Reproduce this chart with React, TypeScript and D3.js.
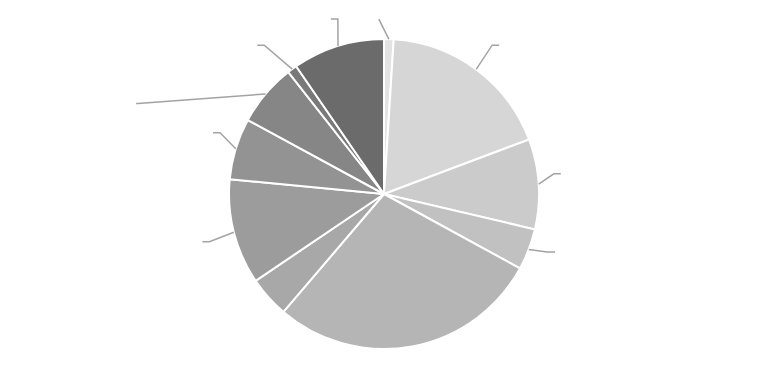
import React, { useEffect, useRef } from 'react';
import * as d3 from 'd3';

// slices clockwise from 12 o'clock
const categories = ['A', 'B', 'C', 'D', 'E', 'F', 'G', 'H', 'I', 'J', 'K'];
const values = [1.0, 18.3, 9.4, 4.3, 28.3, 4.3, 11.0, 6.4, 6.5, 1.0, 9.6];
const shades = ['#e3e3e3', '#d6d6d6', '#cbcbcb', '#c1c1c1', '#b5b5b5', '#a8a8a8', '#9c9c9c', '#939393', '#868686', '#797979', '#6b6b6b'];

export default function App() {
  const svgRef = useRef<SVGSVGElement>(null);

  useEffect(() => {
    const w = 768;
    const h = 389;
    const cx = 384;
    const cy = 194;
    const r = 155;

    const svg = d3.select(svgRef.current)
      .attr('width', w)
      .attr('height', h)
      .style('display', 'block');
    svg.selectAll('*').remove();

    const data = categories.map((c, i) => ({ name: c, value: values[i], color: shades[i] }));

    const pie = d3.pie<any>()
      .value(d => d.value)
      .sort(null);
    const arcs = pie(data);

    const arc = d3.arc<any>()
      .innerRadius(0)
      .outerRadius(r);

    const g = svg.append('g').attr('transform', `translate(${cx},${cy})`);

    g.selectAll('path.slice')
      .data(arcs)
      .join('path')
      .attr('class', 'slice')
      .attr('d', arc)
      .attr('fill', d => d.data.color)
      .attr('stroke', '#fff')
      .attr('stroke-width', 2)
      .attr('stroke-linejoin', 'round');

    // leader lines: elbow pushed out / rotated a bit where labels got shifted
    const ext = [20, 29, 16, 18, 0, 0, 26, 20, 107, 36, 26];
    const rot = [-3.5, -0.5, -3.1, -1.4, 0, 0, -1, 3.5, -20, -2.5, 2.5];
    const tail = [0, 7, 7, 8, 0, 0, 7, 7, 2, 7, 7];
    const polar = (a: number, rad: number): [number, number] =>
      [Math.sin(a) * rad, -Math.cos(a) * rad];

    arcs.forEach((d, i) => {
      if (!ext[i]) return;
      const mid = (d.startAngle + d.endAngle) / 2;
      const p0 = polar(mid, r);
      const p1 = polar(mid + (rot[i] * Math.PI) / 180, r + ext[i]);
      const side = Math.sin(mid) >= 0 ? 1 : -1;
      const p2: [number, number] = [p1[0] + side * tail[i], p1[1]];
      g.append('path')
        .attr('d', d3.line()([p0, p1, p2]))
        .attr('fill', 'none')
        .attr('stroke', '#a3a3a3')
        .attr('stroke-width', 1.5);
    });
  }, []);

  return (
    <div style={{ margin: -8 }}>
      <svg ref={svgRef}></svg>
    </div>
  );
}
